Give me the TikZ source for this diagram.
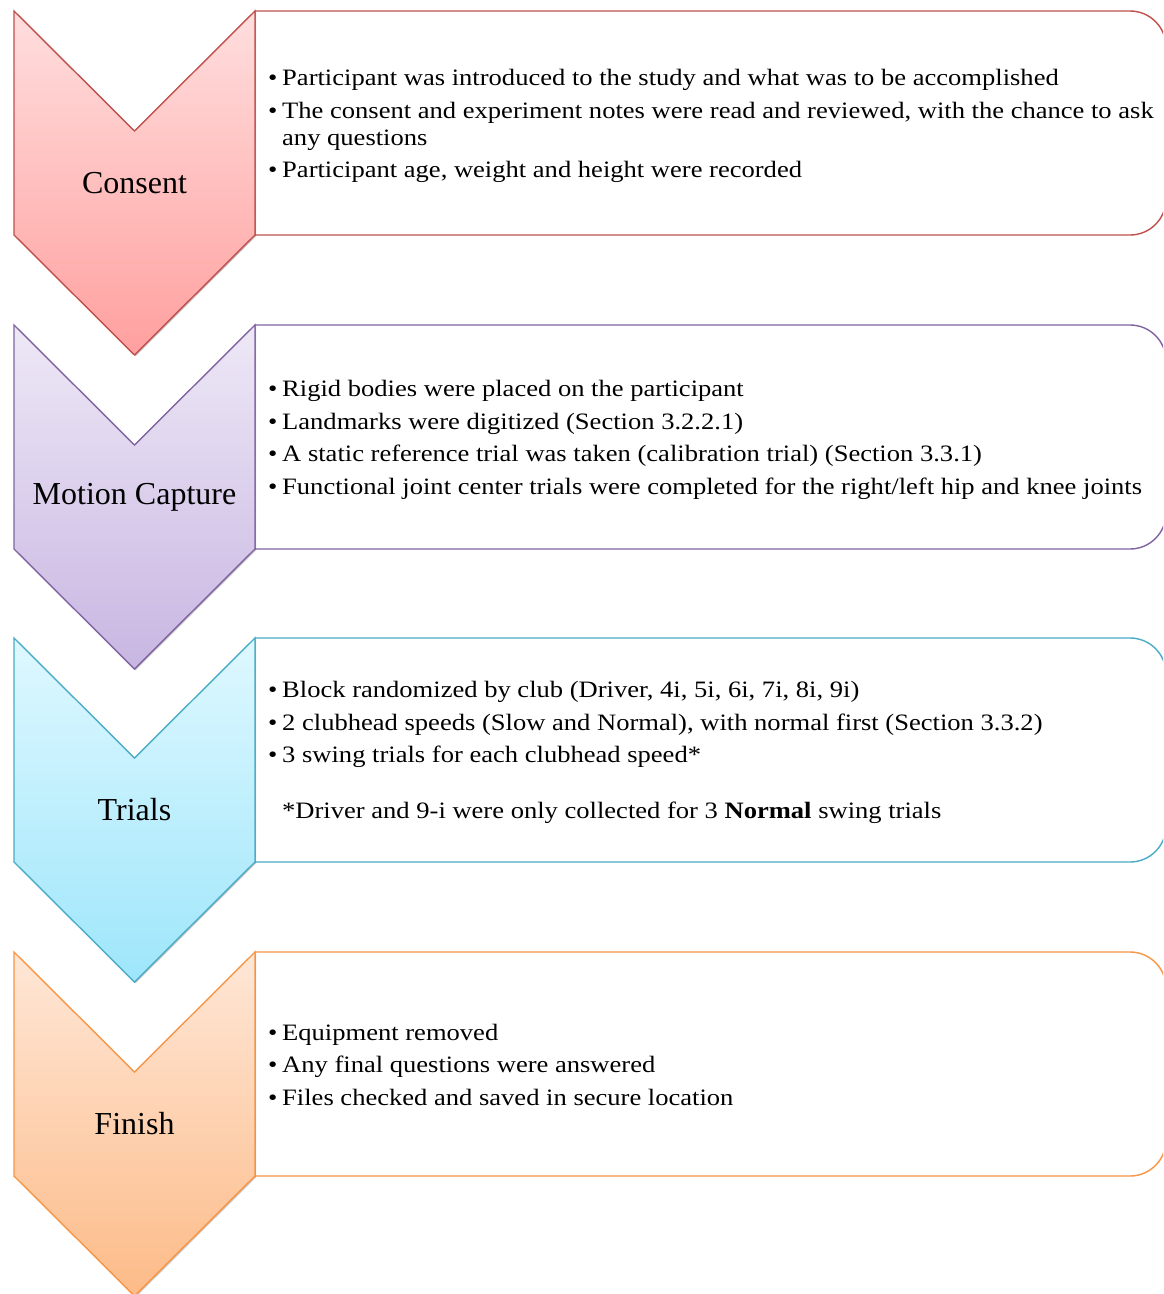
\documentclass[tikz,border=0pt]{standalone}
\usepackage{fontspec}
\setmainfont{Liberation Serif}
\newfontfamily\bodyfont[FakeStretch=1.13]{Liberation Serif}
\usetikzlibrary{shadows}

% Office-style accent colours (border, light top, strong bottom)
\definecolor{redline}{HTML}{C0504D}
\definecolor{redtop}{HTML}{FFDEDE}
\definecolor{redbot}{HTML}{FFA09F}
\definecolor{purpline}{HTML}{8064A2}
\definecolor{purptop}{HTML}{EEE8F6}
\definecolor{purpbot}{HTML}{C8B6E2}
\definecolor{cyanline}{HTML}{4BACC6}
\definecolor{cyantop}{HTML}{DFF8FF}
\definecolor{cyanbot}{HTML}{9EE6FB}
\definecolor{orline}{HTML}{F79646}
\definecolor{ortop}{HTML}{FEE7D7}
\definecolor{orbot}{HTML}{FDBB88}

\newcommand{\bul}{\makebox[14pt][l]{•}}
\newcommand{\ind}{\hspace*{14pt}}

\tikzset{
  chevron/.style n args={3}{draw=#1, line width=1.4pt, line join=miter,
    top color=#2, bottom color=#3,
    drop shadow={shadow xshift=1.2pt, shadow yshift=-1.2pt, opacity=0.22, fill=black}},
  stepbox/.style={draw=#1, line width=1.4pt, fill=white},
  steplabel/.style={font=\fontsize{32}{36}\selectfont, inner sep=0pt},
  steptext/.style={font=\bodyfont\fontsize{23.5}{27}\selectfont, align=left, anchor=west, inner sep=0pt},
}

\begin{document}
\begin{tikzpicture}[x=1pt, y=1pt]
\clip (0,0) rectangle (1163,-1294);
\fill[white] (0,0) rectangle (1163,-1294);

% one step: text box with rounded right end, then the chevron over its left edge
\foreach \T/\ln/\tp/\bt in {11/redline/redtop/redbot, 325/purpline/purptop/purpbot,
                            638/cyanline/cyantop/cyanbot, 952/orline/ortop/orbot}{
  \draw[stepbox=\ln] (255,-\T) -- (1130,-\T)
      arc[start angle=90, end angle=0, radius=36] -- (1166,-\T-188)
      arc[start angle=0, end angle=-90, radius=36] -- (255,-\T-224) -- cycle;
  \path[chevron={\ln}{\tp}{\bt}] (14,-\T) -- (134.5,-\T-120) -- (255,-\T)
      -- (255,-\T-224) -- (134.5,-\T-344) -- (14,-\T-224) -- cycle;
}

% step names
\node[steplabel] (consent) at (134.5,-183) {Consent};
\node[steplabel] (mocap)   at (134.5,-497) {Motion Capture};
\node[steplabel] (trials)  at (134.5,-810) {Trials};
\node[steplabel] (finish)  at (134.5,-1124) {Finish};

% step contents
\node[steptext] (consenttext) at (268,-126) {%
  \bul Participant was introduced to the study and what was to be accomplished\\[5.5pt]
  \bul The consent and experiment notes were read and reviewed, with the chance to ask\\
  \ind any questions\\[5.5pt]
  \bul Participant age, weight and height were recorded};

\node[steptext] (mocaptext) at (268,-440) {%
  \bul Rigid bodies were placed on the participant\\[5.5pt]
  \bul Landmarks were digitized (Section 3.2.2.1)\\[5.5pt]
  \bul A static reference trial was taken (calibration trial) (Section 3.3.1)\\[5.5pt]
  \bul Functional joint center trials were completed for the right/left hip and knee joints};

\node[steptext] (trialstext) at (268,-752.5) {%
  \bul Block randomized by club (Driver, 4i, 5i, 6i, 7i, 8i, 9i)\\[5.5pt]
  \bul 2 clubhead speeds (Slow and Normal), with normal first (Section 3.3.2)\\[5.5pt]
  \bul 3 swing trials for each clubhead speed*\\[29pt]
  \ind *Driver and 9-i were only collected for 3 \textbf{Normal} swing trials};

\node[steptext] (finishtext) at (268,-1064.5) {%
  \bul Equipment removed\\[5.5pt]
  \bul Any final questions were answered\\[5.5pt]
  \bul Files checked and saved in secure location};
\end{tikzpicture}
\end{document}
